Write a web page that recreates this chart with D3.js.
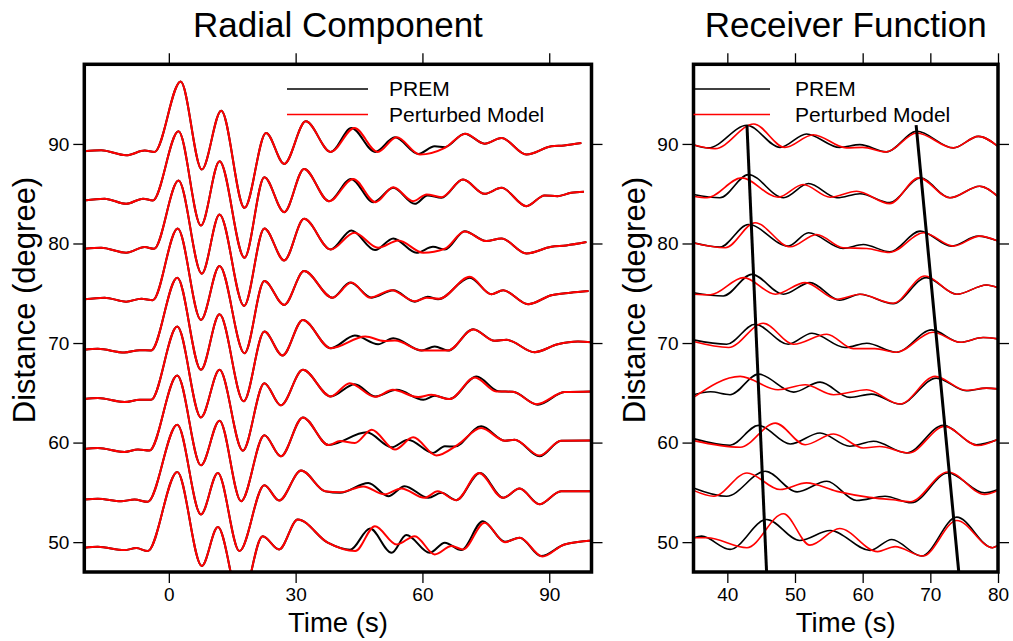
<!DOCTYPE html>
<html>
<head>
<meta charset="utf-8">
<script src="https://cdn.jsdelivr.net/npm/d3@7"></script>
<style>
body{margin:0;background:#fff}
svg{display:block;font-family:"Liberation Sans",Arial,Helvetica,sans-serif}
</style>
</head>
<body>
<svg id="chart" width="1013" height="641"></svg>
<script>
// ---- data: [time (s), amplitude offset (degree)] key points ----
var distances = [90,85,80,75,70,65,60,55,50];
var distTicks = [50,60,70,80,90];
var radialTicks = [0,30,60,90];
var rfTicks = [40,50,60,70,80];
var legendNames = ["PREM","Perturbed Model"];
var legendColors = ["black","red"];

// radial component, shared early part (PREM and perturbed overlap here)
var radialEarly90 = [[-20,-0.74],[-16,-0.64],[-10.1,-1.14],[-5.7,-0.67],[-3.4,-0.8],[2.8,6.28],[7.8,-2.57],[12.4,3.34],[17.9,-6.42],[23,1.1],[27.3,-2.01],[32.4,2.27],[38.3,-0.8]];
var radialEarly85 = [[-20,-0.68],[-15.2,-0.5],[-10.1,-1.02],[-6.1,-0.5],[-3.8,-0.68],[2.3,6.27],[7.6,-3.19],[12,3.26],[17.9,-6.43],[22.6,1.66],[27.3,-1.85],[32,2.49],[37.9,-0.75]];
var radialEarly80 = [[-20,-0.53],[-16,-0.43],[-10.1,-0.93],[-5.7,-0.36],[-3.5,-0.53],[2.3,6.32],[7.8,-3.03],[12,2.91],[17.8,-6.27],[22.6,1.51],[27.3,-1.7],[32,2.48],[38.3,-0.6]];
var radialEarly75 = [[-20,-0.61],[-15.2,-0.44],[-10.1,-0.84],[-6.5,-0.54],[-3.8,-0.7],[2.1,6.51],[7.6,-2.68],[12,2.74],[17.9,-6.02],[22.6,1.23],[27.3,-1.17],[32,2.23],[38.7,-0.44]];
var radialEarly70 = [[-20,-0.68],[-16.8,-0.58],[-10.5,-0.95],[-6.9,-0.72],[-4.2,-0.75],[2,6.57],[7.6,-2.69],[12,2.89],[17.7,-5.86],[22.6,1.15],[26.9,-1.25],[31.7,2.32],[38.3,-0.52]];
var radialEarly65 = [[-20,-0.63],[-16.8,-0.53],[-10.5,-0.93],[-6.9,-0.7],[-4.2,-0.7],[2,6.65],[7.6,-2.47],[12,2.31],[17.5,-5.81],[22.6,0.97],[26.5,-1.26],[31.7,2.31],[38.3,-0.36]];
var radialEarly60 = [[-20,-0.64],[-16.8,-0.54],[-10.5,-0.94],[-7.3,-0.7],[-4.6,-0.8],[2,6.74],[7.6,-2.28],[12,2.2],[17.1,-5.89],[22.6,0.73],[26.5,-1.38],[31.7,2.53],[37.8,-0.25]];
var radialEarly55 = [[-20,-0.72],[-16.8,-0.65],[-11.3,-0.89],[-8.1,-0.72],[-5,-0.95],[2,6.8],[7.6,-2.22],[11.6,1.95],[16.7,-5.9],[22.6,0.72],[26.1,-0.82],[31.3,2.19],[37,0.1]];
var radialEarly50 = [[-20,-0.56],[-16.8,-0.46],[-10.5,-0.8],[-7.7,-0.6],[-5,-0.9],[2,7.05],[7.8,-2.4],[11.6,1.51],[17,-6.2],[22.2,0.6],[26.1,-0.73],[30.5,2.28],[37.6,-0.06]];

// radial component, late part
var radialPremLate90 = [[43.2,1.6],[48.8,-0.8],[53.5,0.67],[59,-1.0],[62.9,-0.24],[65.3,-0.32],[70,1.03],[74.7,0.03],[78.7,0.6],[84.6,-1.07],[90.5,-0.24],[93.5,-0.15],[97.6,0.1]];
var radialPertLate90 = [[43.9,1.6],[49.4,-0.8],[53.9,0.67],[59.4,-1.07],[65.3,-0.4],[70.2,1.03],[74.7,0.03],[78.7,0.6],[84.6,-1.07],[90.5,-0.24],[93.5,-0.15],[97.6,0.1]];
var radialPremLate85 = [[43.1,1.49],[48.4,-0.85],[53.1,0.59],[58.2,-1.02],[61.2,-0.18],[64.5,-0.41],[69.6,1.42],[74.7,-0.01],[78.7,0.59],[84.6,-1.25],[88.9,-0.18],[92,-0.25],[95.2,0.09],[98.2,0.19]];
var radialPertLate85 = [[43.6,1.49],[48.9,-0.85],[53.1,0.65],[57.8,-0.75],[61,-0.07],[64.5,-0.35],[69.6,1.42],[74.7,-0.01],[78.7,0.59],[84.6,-1.25],[88.9,-0.18],[92,-0.25],[95.2,0.09],[98.2,0.19]];
var radialPremLate80 = [[43.2,1.31],[48.8,-0.66],[53.1,0.51],[58.6,-0.93],[62.5,-0.33],[65.3,-0.6],[70,1.24],[75.1,0.24],[78.7,0.51],[84.6,-1.0],[90.5,-0.33],[94,-0.2],[98.8,0.14]];
var radialPertLate80 = [[43.9,1.08],[49.5,-0.43],[54.3,0.31],[60.2,-0.93],[65.3,-0.53],[70,1.2],[75.1,0.24],[78.7,0.51],[84.6,-1.0],[90.5,-0.33],[94,-0.2],[98.8,0.14]];
var radialPremLate75 = [[42.9,1.07],[48,-0.44],[53.1,0.3],[58.2,-0.84],[61.2,-0.34],[63.7,-0.6],[71.2,1.57],[76.3,-0.1],[79.1,0.3],[85,-1.1],[90.5,-0.2],[95,0.05],[99.3,0.22]];
var radialPertLate75 = [[43.2,1.07],[47.6,-0.44],[52.7,0.3],[58.2,-0.8],[61,-0.45],[64,-0.55],[71.2,1.65],[76.3,-0.1],[79.1,0.3],[85,-1.1],[90.5,-0.2],[95,0.05],[99.3,0.22]];
var radialPremLate70 = [[44,0.75],[49.5,-0.12],[53.1,0.48],[59.8,-0.75],[62.9,-0.35],[66.1,-0.75],[72,1.39],[77.1,0.22],[79.9,0.32],[86.5,-0.92],[92,-0.12],[96.8,0.15],[100.2,0.08]];
var radialPertLate70 = [[46.5,0.65],[51,0.2],[53.5,0.25],[60,-0.75],[66,-0.75],[72,1.35],[77.1,0.22],[79.9,0.32],[86.5,-0.92],[92,-0.12],[96.8,0.15],[100.2,0.08]];
var radialPremLate65 = [[44,0.87],[48.8,-0.36],[53.9,0.3],[60.2,-0.7],[62.9,-0.3],[66.4,-0.63],[72.8,1.64],[78,0.15],[81.4,0.1],[87.3,-1.2],[93.6,0.07],[100.2,0.14]];
var radialPertLate65 = [[42.8,0.97],[48.8,-0.4],[53,0.3],[59,-0.43],[62.1,-0.2],[66.4,-0.63],[72.4,1.54],[77.5,0.14],[81.4,0.1],[87,-1.14],[93.6,0.07],[100.2,0.14]];
var radialPremLate60 = [[46.8,1.03],[52.7,-0.47],[56.6,0.29],[62.5,-1.04],[65.3,-0.37],[67.6,-0.4],[73.9,1.63],[79.5,0.19],[81.8,0.29],[87.7,-1.38],[92.8,0.19],[100.2,0.2]];
var radialPertLate60 = [[40.5,0.15],[44,-0.04],[48,1.3],[53.5,-0.7],[57.8,0.53],[63.3,-1.3],[68.4,-0.2],[73.9,1.46],[79.5,0.19],[81.8,0.29],[87.7,-1.3],[92.8,0.19],[100.2,0.2]];
var radialPremLate55 = [[40.5,-0.05],[47.2,0.95],[51.9,-0.38],[55.8,0.62],[61.4,-0.55],[64.5,-0.05],[68,-0.78],[73.6,1.95],[79.1,-0.55],[83,0.38],[87.7,-1.2],[92.8,0.12],[100.2,0.12]];
var radialPertLate55 = [[40.5,0],[46,0.6],[51,-0.2],[55,0.4],[60.5,-0.55],[63.6,0.1],[68,-0.78],[73.4,1.95],[79,-0.55],[83,0.38],[87.6,-1.2],[92.8,0.12],[100.2,0.12]];
var radialPremLate50 = [[42.9,-0.77],[47.6,1.37],[52.7,-1.07],[56.2,0.71],[61.7,-1.07],[65.3,-0.06],[69.2,-0.8],[74.3,2.11],[79.5,0.04],[83,0.44],[88.1,-1.4],[93.6,-0.23],[100.2,0.17]];
var radialPertLate50 = [[44.1,-0.9],[48.75,1.6],[53.9,-0.23],[58.2,0.6],[62.9,-1.23],[66.9,-0.4],[69.6,-0.73],[74.7,1.94],[79.5,0.0],[83,0.44],[88.4,-1.45],[93.6,-0.23],[100.2,0.17]];

// receiver function
var rfPrem90 = [[35,-0.07],[37.2,-0.4],[42.9,1.87],[47.8,-0.35],[51.7,1.0],[56.6,-0.35],[59.6,-0.07],[63.5,-0.8],[68,1.27],[73.4,-0.4],[77.1,0.76],[80,-0.25]];
var rfPert90 = [[35,-0.1],[38.2,-0.47],[43.9,2.0],[48.5,-0.35],[52.7,0.93],[57.6,-0.4],[60,-0.35],[63.5,-0.8],[68,1.1],[73.4,-0.4],[77.1,0.76],[80,-0.25]];
var rfPrem85 = [[35,-0.08],[38.9,-0.41],[43.1,1.92],[48.3,-0.41],[52,1.02],[56.2,-0.41],[59.6,0],[64,-0.9],[68.5,1.59],[72.9,-0.41],[77.3,0.75],[80,-0.3]];
var rfPert85 = [[35,-0.25],[37,-0.4],[42.1,1.59],[47.5,-0.35],[51.2,0.93],[55.2,-0.35],[59.1,0.25],[64,-1.0],[68.3,1.59],[72.9,-0.41],[77.3,0.75],[80,-0.3]];
var rfPrem80 = [[35,0.07],[38.9,-0.36],[43.1,1.91],[49,-0.26],[52,1.08],[57.1,-0.49],[60.1,-0.1],[64,-0.83],[68.5,1.24],[73.1,-0.26],[77.1,0.74],[80,0.24]];
var rfPert80 = [[35,0.05],[39.7,-0.43],[44.1,2.08],[49.3,-0.33],[53.2,0.91],[57.1,-0.43],[60.6,-0.5],[64,-0.9],[69,1.08],[73.4,-0.26],[77.3,0.74],[80,0.24]];
var rfPrem75 = [[35,0.06],[39.4,-0.27],[43.6,1.9],[48.3,-0.1],[52.2,1.07],[56.6,-0.7],[59.6,-0.1],[64.5,-1.04],[69.4,1.57],[73.9,-0.1],[78.3,0.83],[80,0.56]];
var rfPert75 = [[35,-0.1],[37.5,-0.15],[42.4,1.57],[47.1,-0.1],[51.5,1.07],[56.2,-0.6],[59.6,-0.1],[64.5,-1.0],[69.2,1.74],[73.9,-0.1],[78.3,0.83],[80,0.56]];
var rfPrem70 = [[35,0.32],[39.9,-0.12],[44.1,1.89],[49,-0.12],[52.5,0.99],[57.4,-0.45],[60.6,-0.02],[65,-0.92],[70.2,1.32],[74.4,0.08],[77.8,0.55],[80,0.42]];
var rfPert70 = [[35,0.15],[40.2,-0.45],[45.3,1.99],[49.8,-0.12],[54.7,0.89],[58.6,-0.56],[61.8,-0.56],[65,-0.92],[70.4,1.09],[74.4,0.08],[77.8,0.55],[80,0.42]];
var rfPrem65 = [[35,-0.19],[37.5,0.1],[40.4,-0.19],[44.6,1.88],[49.8,0.07],[53.7,1.07],[58.1,-0.46],[61.3,-0.13],[65.5,-1.13],[70.9,1.48],[75.3,0.21],[78.3,0.47],[80,0.4]];
var rfPert65 = [[35,-0.46],[41.9,1.65],[47.5,0.31],[51.5,0.81],[55.7,-0.19],[60.6,0.31],[65.5,-1.13],[70.7,1.65],[75.3,0.25],[78.3,0.47],[80,0.4]];
var rfPrem60 = [[35,0.4],[40.4,-0.27],[44.6,1.73],[49.3,-0.14],[53.7,0.96],[58.1,-0.37],[61.6,0.13],[66.5,-1.04],[71.9,1.73],[76.8,-0.21],[80,0.3]];
var rfPert60 = [[35,0.2],[41.9,-0.47],[47.1,1.96],[51.5,-0.21],[55.7,0.86],[60.1,-0.54],[62.5,-0.4],[66.8,-1.04],[72.1,1.63],[77,-0.3],[80,0.35]];
var rfPrem55 = [[35,0.45],[39.9,-0.39],[45.6,2.12],[50.3,0.05],[54.7,1.12],[59.1,-0.82],[63.3,-0.39],[67.2,-1.05],[72.6,1.95],[78,-0.05],[80,0.28]];
var rfPert55 = [[35,0.2],[38,-0.39],[42.9,1.95],[47.8,0.28],[51.7,0.95],[56.2,0.1],[61,-0.5],[64.5,-0.75],[67,-0.95],[72.6,2.05],[78,-0.2],[80,0.2]];
var rfPrem50 = [[35,0.44],[36.2,0.6],[40.4,-0.73],[45.8,2.28],[50.7,0.17],[55.2,1.17],[61.1,-0.83],[64.3,0.27],[68.7,-1.4],[73.9,2.51],[79.2,-0.56],[80,-0.33]];
var rfPert50 = [[35,0.44],[37,0.44],[42.9,-0.56],[48.3,2.85],[52.2,-0.3],[56.6,1.37],[62.2,-0.95],[64.8,-0.45],[68.9,-1.4],[73.9,2.18],[79.2,-0.56],[80,-0.33]];

// moveout lines on the receiver functions
var moveoutDist = [91.9,47];
var moveoutT1 = [42.9,45.8];
var moveoutT2 = [67.9,74.2];

var radialEarly = [radialEarly90,radialEarly85,radialEarly80,radialEarly75,radialEarly70,radialEarly65,radialEarly60,radialEarly55,radialEarly50];
var radialPremLate = [radialPremLate90,radialPremLate85,radialPremLate80,radialPremLate75,radialPremLate70,radialPremLate65,radialPremLate60,radialPremLate55,radialPremLate50];
var radialPertLate = [radialPertLate90,radialPertLate85,radialPertLate80,radialPertLate75,radialPertLate70,radialPertLate65,radialPertLate60,radialPertLate55,radialPertLate50];
var rfPrem = [rfPrem90,rfPrem85,rfPrem80,rfPrem75,rfPrem70,rfPrem65,rfPrem60,rfPrem55,rfPrem50];
var rfPert = [rfPert90,rfPert85,rfPert80,rfPert75,rfPert70,rfPert65,rfPert60,rfPert55,rfPert50];

var radialTraces = distances.map(function(d,i)
{
    return {dist:d, prem:radialEarly[i].concat(radialPremLate[i]), pert:radialEarly[i].concat(radialPertLate[i])};
});
var rfTraces = distances.map(function(d,i)
{
    return {dist:d, prem:rfPrem[i], pert:rfPert[i]};
});

var svg = d3.select("#chart");
var yRange = [572,64.3];
var yDomain = [47,98];

var drawTraces = function(target,traces,xScale,yScale,width)
{
    var makeLine = function(dist)
    {
        return d3.line()
            .x(function(p){return xScale(p[0]);})
            .y(function(p){return yScale(dist+p[1]);})
            .curve(d3.curveMonotoneX);
    }
    target.selectAll("path.prem")
        .data(traces)
        .enter()
        .append("path")
        .classed("prem",true)
        .attr("d",function(t){return makeLine(t.dist)(t.prem);})
        .attr("fill","none")
        .attr("stroke","black")
        .attr("stroke-width",width)
    target.selectAll("path.pert")
        .data(traces)
        .enter()
        .append("path")
        .classed("pert",true)
        .attr("d",function(t){return makeLine(t.dist)(t.pert);})
        .attr("fill","none")
        .attr("stroke","red")
        .attr("stroke-width",width)
}

var drawAxes = function(xScale,yScale,xTicks)
{
    var x0 = xScale.range()[0], x1 = xScale.range()[1];
    var styleAxis = function(g)
    {
        g.select(".domain").remove();
        g.selectAll("line").attr("stroke","black").attr("stroke-width",1.3);
        g.selectAll("text").attr("font-size","19px").attr("fill","black").attr("font-family",null);
    }
    svg.append("g")
        .attr("transform","translate(0,"+yRange[0]+")")
        .call(d3.axisBottom(xScale).tickValues(xTicks).tickSize(11).tickPadding(5))
        .call(styleAxis)
    svg.append("g")
        .attr("transform","translate(0,"+yRange[1]+")")
        .call(d3.axisTop(xScale).tickValues(xTicks).tickSize(11).tickFormat(""))
        .call(styleAxis)
    svg.append("g")
        .attr("transform","translate("+x0+",0)")
        .call(d3.axisLeft(yScale).tickValues(distTicks).tickSize(11).tickPadding(4))
        .call(styleAxis)
    svg.append("g")
        .attr("transform","translate("+x1+",0)")
        .call(d3.axisRight(yScale).tickValues(distTicks).tickSize(11).tickFormat(""))
        .call(styleAxis)
}

var drawLegend = function(lineX0,lineX1,textX)
{
    var legend = svg.append("g");
    var entries = legend.selectAll("g")
        .data(legendNames)
        .enter()
        .append("g")
        .attr("transform",function(n,i){return "translate(0,"+(89+i*25.5)+")";});
    entries.append("line")
        .attr("x1",lineX0)
        .attr("x2",lineX1)
        .attr("stroke",function(n,i){return legendColors[i];})
        .attr("stroke-width",1.5)
    entries.append("text")
        .text(function(n){return n;})
        .attr("x",textX)
        .attr("y",7)
        .attr("font-size","21px")
}

var drawPanel = function(opts)
{
    var xScale = d3.scaleLinear().domain(opts.domain).range(opts.range);
    var yScale = d3.scaleLinear().domain(yDomain).range(yRange);
    var w = opts.range[1]-opts.range[0], h = yRange[0]-yRange[1];

    svg.append("clipPath")
        .attr("id",opts.id)
        .append("rect")
        .attr("x",opts.range[0])
        .attr("y",yRange[1])
        .attr("width",w)
        .attr("height",h)

    var plot = svg.append("g").attr("clip-path","url(#"+opts.id+")");
    drawTraces(plot,opts.traces,xScale,yScale,opts.lineWidth);

    if(opts.moveout)
    {
        opts.moveout.forEach(function(ts)
        {
            plot.append("path")
                .attr("d",d3.line()
                    .x(function(p,i){return xScale(ts[i]);})
                    .y(function(p){return yScale(p);})(moveoutDist))
                .attr("fill","none")
                .attr("stroke","black")
                .attr("stroke-width",3)
        })
    }

    drawAxes(xScale,yScale,opts.ticks);

    svg.append("rect")
        .attr("x",opts.range[0])
        .attr("y",yRange[1])
        .attr("width",w)
        .attr("height",h)
        .attr("fill","none")
        .attr("stroke","black")
        .attr("stroke-width",3.5)

    drawLegend(opts.legend[0],opts.legend[1],opts.legend[2]);

    var cx = (opts.range[0]+opts.range[1])/2;
    svg.append("text")
        .text(opts.title)
        .attr("x",cx)
        .attr("y",37)
        .attr("text-anchor","middle")
        .attr("font-size","35px")
    svg.append("text")
        .text("Time (s)")
        .attr("x",cx)
        .attr("y",632)
        .attr("text-anchor","middle")
        .attr("font-size","27.5px")
    svg.append("text")
        .text("Distance (degree)")
        .attr("text-anchor","middle")
        .attr("font-size","31px")
        .attr("transform","translate("+opts.yLabelX+",300) rotate(-90)")
}

drawPanel({id:"clipRadial", domain:[-20,100], range:[84.3,591.5], traces:radialTraces, lineWidth:2,
    ticks:radialTicks, legend:[287,368,389], title:"Radial Component", yLabelX:35});
drawPanel({id:"clipRF", domain:[35,80], range:[693.5,998], traces:rfTraces, lineWidth:1.6,
    ticks:rfTicks, legend:[693.5,770,795], title:"Receiver Function", yLabelX:645,
    moveout:[moveoutT1,moveoutT2]});
</script>
</body>
</html>
